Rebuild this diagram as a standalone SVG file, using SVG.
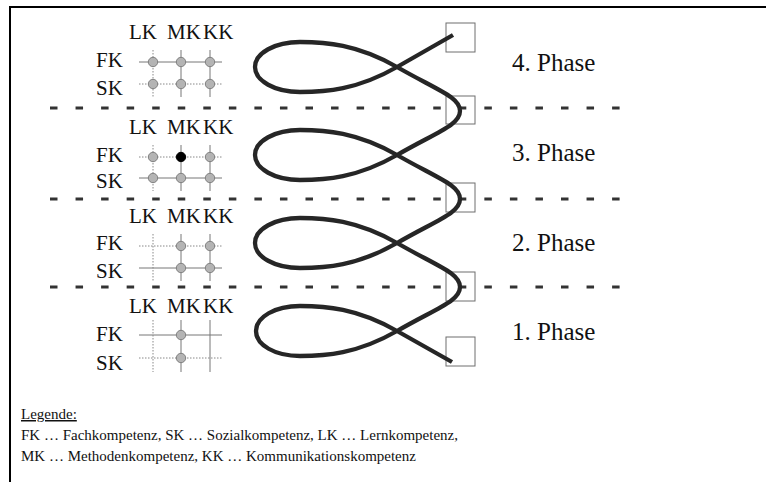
<svg xmlns="http://www.w3.org/2000/svg" width="766" height="482" viewBox="0 0 766 482">
<style>
text{font-family:"Liberation Serif","Times New Roman",serif;fill:#111}
.lab{font-size:21px}
.ph{font-size:25px}
.lg{font-size:15px}
.sol{stroke:#777;stroke-width:1;fill:none}
.dot{stroke:#888;stroke-width:1;stroke-dasharray:1.5 1.5;fill:none}
.c{fill:#b4b4b4;stroke:#808080;stroke-width:1}
.cb{fill:#000;stroke:#000;stroke-width:1}
.sq{fill:none;stroke:#6e6e6e;stroke-width:1}
.dash{stroke:#333;stroke-width:3;stroke-dasharray:7.5 18.05;fill:none}
</style>
<rect width="766" height="482" fill="#fff"/>
<path d="M10 482 V7 H766" fill="none" stroke="#000" stroke-width="2"/>

<g id="separators">
<line class="dash" x1="50" y1="108" x2="620" y2="108"/>
<line class="dash" x1="50" y1="199" x2="620" y2="199"/>
<line class="dash" x1="50" y1="287" x2="620" y2="287"/>
</g>

<g id="phase4">
<text class="lab" y="39"><tspan x="129">LK</tspan> <tspan x="167">MK</tspan><tspan x="203">KK</tspan></text>
<text class="lab" x="96" y="67">FK</text>
<text class="lab" x="96" y="95">SK</text>
<line class="sol" x1="139" y1="62" x2="222" y2="62"/>
<line class="dot" x1="139" y1="84" x2="222" y2="84"/>
<line class="dot" x1="153" y1="50" x2="153" y2="97"/>
<line class="sol" x1="181" y1="50" x2="181" y2="97"/>
<line class="sol" x1="210" y1="50" x2="210" y2="97"/>
<circle class="c" cx="153" cy="62" r="4.7"/><circle class="c" cx="181" cy="62" r="4.7"/><circle class="c" cx="210" cy="62" r="4.7"/>
<circle class="c" cx="153" cy="84" r="4.7"/><circle class="c" cx="181" cy="84" r="4.7"/><circle class="c" cx="210" cy="84" r="4.7"/>
<text class="ph" x="512" y="71">4. Phase</text>
</g>

<g id="phase3">
<text class="lab" y="134"><tspan x="129">LK</tspan> <tspan x="167">MK</tspan><tspan x="203">KK</tspan></text>
<text class="lab" x="96" y="162">FK</text>
<text class="lab" x="96" y="188">SK</text>
<line class="dot" x1="139" y1="157" x2="222" y2="157"/>
<line class="sol" x1="139" y1="178" x2="222" y2="178"/>
<line class="dot" x1="153" y1="145" x2="153" y2="191"/>
<line class="sol" x1="181" y1="145" x2="181" y2="191"/>
<line class="sol" x1="210" y1="145" x2="210" y2="191"/>
<circle class="c" cx="153" cy="157" r="4.7"/><circle class="cb" cx="181" cy="157" r="4.7"/><circle class="c" cx="210" cy="157" r="4.7"/>
<circle class="c" cx="153" cy="178" r="4.7"/><circle class="c" cx="181" cy="178" r="4.7"/><circle class="c" cx="210" cy="178" r="4.7"/>
<text class="ph" x="512" y="161">3. Phase</text>
</g>

<g id="phase2">
<text class="lab" y="223"><tspan x="129">LK</tspan> <tspan x="167">MK</tspan><tspan x="203">KK</tspan></text>
<text class="lab" x="96" y="250">FK</text>
<text class="lab" x="96" y="278">SK</text>
<line class="dot" x1="139" y1="246" x2="222" y2="246"/>
<line class="sol" x1="139" y1="268" x2="222" y2="268"/>
<line class="dot" x1="153" y1="234" x2="153" y2="281"/>
<line class="sol" x1="181" y1="234" x2="181" y2="281"/>
<line class="sol" x1="210" y1="234" x2="210" y2="281"/>
<circle class="c" cx="181" cy="246" r="4.7"/><circle class="c" cx="210" cy="246" r="4.7"/>
<circle class="c" cx="181" cy="268" r="4.7"/><circle class="c" cx="210" cy="268" r="4.7"/>
<text class="ph" x="512" y="251">2. Phase</text>
</g>

<g id="phase1">
<text class="lab" y="313"><tspan x="129">LK</tspan> <tspan x="167">MK</tspan><tspan x="203">KK</tspan></text>
<text class="lab" x="96" y="341">FK</text>
<text class="lab" x="96" y="370">SK</text>
<line class="sol" x1="139" y1="335" x2="222" y2="335"/>
<line class="dot" x1="139" y1="358" x2="222" y2="358"/>
<line class="dot" x1="153" y1="320" x2="153" y2="372"/>
<line class="sol" x1="181" y1="320" x2="181" y2="372"/>
<line class="sol" x1="210" y1="320" x2="210" y2="372"/>
<circle class="c" cx="181" cy="335" r="4.7"/>
<circle class="c" cx="181" cy="358" r="4.7"/>
<text class="ph" x="512" y="340">1. Phase</text>
</g>

<g id="squares">
<rect class="sq" x="446" y="23" width="29" height="29"/>
<rect class="sq" x="446" y="96" width="29" height="28"/>
<rect class="sq" x="446" y="183" width="29" height="29"/>
<rect class="sq" x="446" y="272" width="29" height="29"/>
<rect class="sq" x="446" y="337" width="29" height="29"/>
</g>

<g id="connectors">
<path fill="none" stroke="#262626" stroke-width="4.3" stroke-linecap="butt" d="M453 35 L397 67
C357 90 325 92 300 92 C275 92 255 81 255 67 C255 53 275 42 300 42 C325 42 357 44 397 67
C437 90 460 97 460 111 C460 125 437 132 397 155
C357 178 325 180 300 180 C275 180 255 169 255 155 C255 141 275 130 300 130 C325 130 357 132 397 155
C437 178 460 185 460 199 C460 213 437 220 397 243
C357 266 325 268 300 268 C275 268 255 257 255 243 C255 229 275 218 300 218 C325 218 357 220 397 243
C437 266 460 273 460 287 C460 301 437 308 397 331
C357 354 325 356 300 356 C275 356 256 345 256 331 C256 317 275 306 300 306 C325 306 357 308 397 331
L452 362"/>
</g>

<g id="legend">
<text class="lg" x="21" y="419" text-decoration="underline">Legende:</text>
<text class="lg" x="21" y="440">FK … Fachkompetenz, SK … Sozialkompetenz, LK … Lernkompetenz,</text>
<text class="lg" x="21" y="461">MK … Methodenkompetenz, KK … Kommunikationskompetenz</text>
</g>
</svg>
